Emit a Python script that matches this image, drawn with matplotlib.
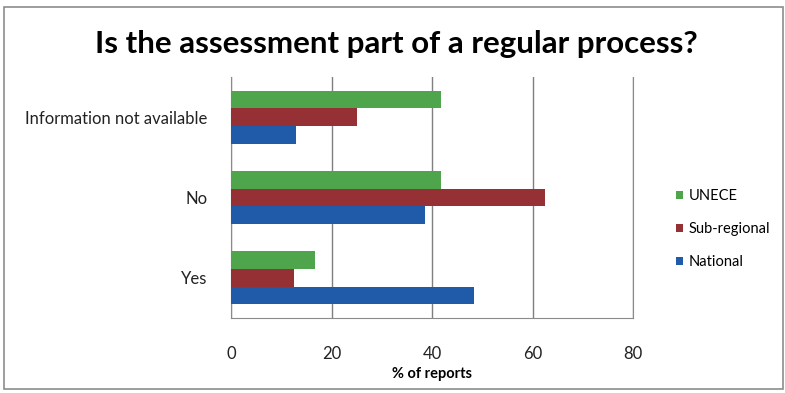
import matplotlib.pyplot as plt
import numpy as np
from matplotlib.patches import Rectangle

plt.rcParams['font.family'] = ['Lato', 'DejaVu Sans']

# answers, bottom to top
categories = ["Yes", "No", "Information not available"]
national = [48.4, 38.7, 13.0]
sub_regional = [12.5, 62.5, 25.0]
unece = [16.7, 41.7, 41.7]

c_green = "#4fa54b"
c_red = "#953035"
c_blue = "#1f5ba8"

fig = plt.figure(figsize=(7.85, 3.93), dpi=100)
ax = fig.add_axes([231 / 785, 1 - 318 / 393, (633 - 231) / 785, (318 - 77) / 393])

y = np.arange(len(categories))
h = 0.22
ax.barh(y - h, national, height=h, color=c_blue, label="National", zorder=3)
ax.barh(y, sub_regional, height=h, color=c_red, label="Sub-regional", zorder=3)
ax.barh(y + h, unece, height=h, color=c_green, label="UNECE", zorder=3)

ax.set_xlim(0, 80)
ax.set_ylim(-0.5, 2.5)
ax.set_xticks([0, 20, 40, 60, 80])
ax.set_yticks(y)
ax.set_yticklabels(categories)
ax.tick_params(axis="both", length=0, labelsize=12, colors="#222222")
ax.tick_params(axis="x", pad=20)
ax.tick_params(axis="y", pad=17)
ax.grid(axis="x", color="#7f7f7f", linewidth=1, zorder=0)
ax.spines["top"].set_visible(False)
for side in ["left", "bottom", "right"]:
    ax.spines[side].set_color("#8a8a8a")
ax.set_xlabel("% of reports", fontsize=10.5, fontweight="bold", labelpad=4)

handles, labels = ax.get_legend_handles_labels()
fig.legend(handles[::-1], labels[::-1], loc="center left",
           bbox_to_anchor=(663 / 785, 1 - 229 / 393), frameon=False,
           fontsize=10.5, handlelength=0.5, handleheight=0.5,
           handletextpad=0.35, labelspacing=1.3)

fig.suptitle("Is the assessment part of a regular process?", x=0.505,
             y=1 - 44 / 393, va="center", fontsize=22.5, fontweight="bold")

# outer chart frame
fig.patches.append(Rectangle((4 / 785, 4 / 393), 1 - 6 / 785, 1 - 11 / 393,
                             transform=fig.transFigure, fill=False,
                             edgecolor="#8c8c8c", linewidth=1.2))

fig.savefig("out.png", dpi=100)
